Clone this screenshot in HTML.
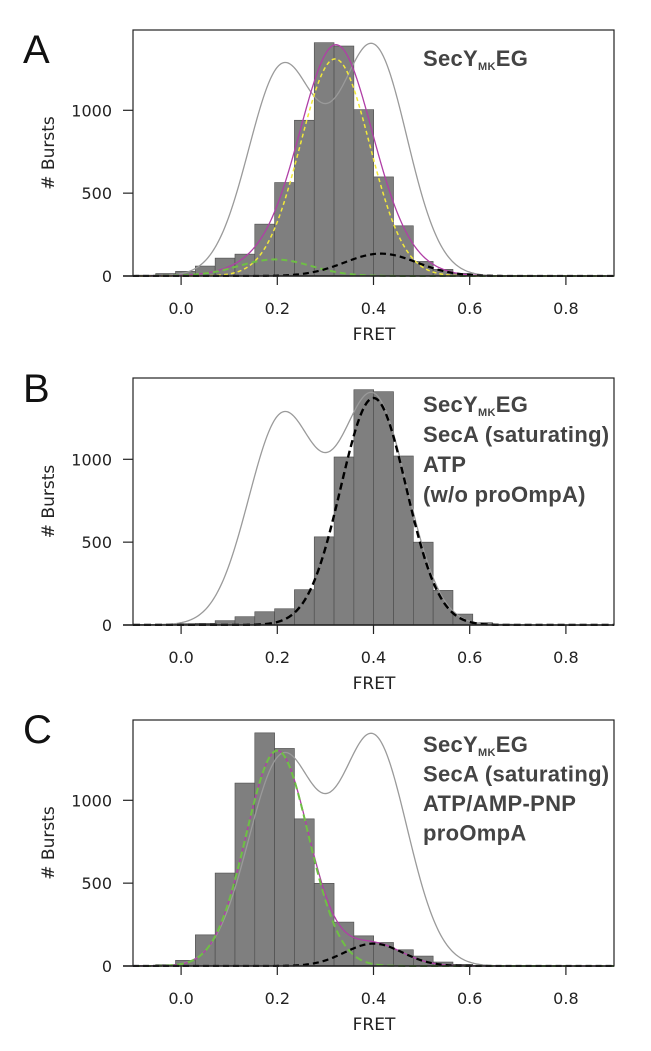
<!DOCTYPE html>
<html><head><meta charset="utf-8"><style>
body{margin:0;background:#fff}
svg{display:block;font-family:"DejaVu Sans","Liberation Sans",sans-serif}
</style></head><body>
<svg id="fig" width="651" height="1051" viewBox="0 0 651 1051"></svg>
<script>
// ---- data ----
const binStart = -0.094;
const binWidth = 0.0412;
const countsA = [5,15,28,60,108,132,313,564,940,1408,1388,1004,598,303,88,40,16,6,2,2,1,1,1,1];
const countsB = [3,5,8,10,26,50,80,98,213,532,1014,1420,1408,1020,500,209,66,14,5,2,1,1,1,1];
const countsC = [3,8,34,188,561,1104,1407,1313,888,499,265,182,142,98,60,24,10,3,1,1,1,1,1,1];
// reference (gray) two-state gaussian: means, sigmas, amplitudes
const refMu = [0.21, 0.40];
const refSigma = [0.07, 0.07];
const refAmp = [1250, 1370];
// fitted components
const fitA_mu = [0.195, 0.32, 0.415];
const fitA_sigma = [0.075, 0.072, 0.075];
const fitA_amp = [100, 1310, 135];
const fitB_mu = [0.40];
const fitB_sigma = [0.068];
const fitB_amp = [1370];
const fitC_mu = [0.20, 0.40];
const fitC_sigma = [0.065, 0.06];
const fitC_amp = [1300, 135];
const xTicks = [0.0, 0.2, 0.4, 0.6, 0.8];
const xTickLabels = ["0.0","0.2","0.4","0.6","0.8"];
const yTicks = [0, 500, 1000];
const yTickLabels = ["0","500","1000"];

const NS = "http://www.w3.org/2000/svg";
const svg = document.getElementById('fig');
function mk(tag, attrs, parent){const e=document.createElementNS(NS,tag);for(const k in attrs)e.setAttribute(k,attrs[k]);(parent||svg).appendChild(e);return e;}
const X0=133, X1=614, D0=-0.1, D1=0.9;
function xs(v){return X0+(v-D0)/(D1-D0)*(X1-X0);}
function gauss(x,m,s,a){return a*Math.exp(-(x-m)*(x-m)/(2*s*s));}
function sumG(x,mu,sg,am){let t=0;for(let i=0;i<mu.length;i++)t+=gauss(x,mu[i],sg[i],am[i]);return t;}

function panel(cfg){
  const g = mk('g',{});
  
  
  const Z=cfg.zero, T=cfg.top, k=0.1657;
  const ys=v=>Z-v*k;
  const clip = mk('clipPath',{id:'clip'+cfg.letter},g);
  mk('rect',{x:X0,y:T,width:X1-X0,height:Z-T+1},clip);
  const plot = mk('g',{'clip-path':'url(#clip'+cfg.letter+')'},g);
  cfg.counts.forEach((c,i)=>{
    const l=binStart+i*binWidth;
    const r=mk('rect',{x:xs(l),y:ys(c),width:xs(l+binWidth)-xs(l),height:Z-ys(c),fill:'#7f7f7f',stroke:'#4a4a4a','stroke-width':0.6},plot);
    
    
  });
  function curve(fn,attrs,name){
    let d='';
    for(let x=D0;x<=D1+1e-9;x+=0.0025){d+=(d?'L':'M')+xs(x).toFixed(2)+','+ys(fn(x)).toFixed(2);}
    const p=mk('path',Object.assign({d:d,fill:'none'},attrs),plot);
    
    
  }
  curve(x=>sumG(x,refMu,refSigma,refAmp),{stroke:'#9a9a9a','stroke-width':1.3},'reference-curve');
  cfg.curves(curve);
  const fr=mk('rect',{x:X0,y:T,width:X1-X0,height:Z-T,fill:'none',stroke:'#222','stroke-width':1.2},g);
  
  
  mk('line',{x1:X0-10,x2:X1,y1:Z,y2:Z,stroke:'#222','stroke-width':1.5},g);
  xTicks.forEach((v,i)=>{
    mk('line',{x1:xs(v),x2:xs(v),y1:Z,y2:Z+9,stroke:'#222','stroke-width':1.2},g);
    const t=mk('text',{x:xs(v),y:Z+38,'text-anchor':'middle','font-size':16,fill:'#222'},g);
    t.textContent=xTickLabels[i];
    
    
  });
  yTicks.forEach((v,i)=>{
    mk('line',{x1:X0-10,x2:X0,y1:ys(v),y2:ys(v),stroke:'#222','stroke-width':1.2},g);
    const t=mk('text',{x:112,y:ys(v)+6,'text-anchor':'end','font-size':16,fill:'#222'},g);
    t.textContent=yTickLabels[i];
    
    
  });
  const xl=mk('text',{x:374,y:Z+64,'text-anchor':'middle','font-size':17,fill:'#222'},g);
  xl.textContent='FRET';
  
  
  const yc=(T+Z)/2;
  const yl=mk('text',{x:0,y:0,'text-anchor':'middle','font-size':17,fill:'#222',transform:'translate(54,'+yc+') rotate(-90)'},g);
  yl.textContent='# Bursts';
  
  
  const pl=mk('text',{x:23,y:cfg.letterY,'font-size':40,fill:'#111','font-family':'Liberation Sans, sans-serif'},g);
  pl.textContent=cfg.letter;
  
  
  cfg.lines.forEach((ln,i)=>{
    const t=mk('text',{x:423,y:cfg.textY+i*cfg.lineGap,'font-size':22,'font-weight':'bold',fill:'#444','font-family':'Liberation Sans, sans-serif','letter-spacing':'0.3'},g);
    
    
    if(i===0){
      t.appendChild(document.createTextNode('SecY'));
      const s=mk('tspan',{'font-size':11,dy:4},t);s.textContent='MK';
      const e=mk('tspan',{dy:-4},t);e.textContent='EG';
    } else t.textContent=ln;
  });
}

panel({name:'panel-a',letter:'A',top:30,zero:276,letterY:63,textY:66,lineGap:30,counts:countsA,
  lines:['SecYMKEG'],
  curves:c=>{
    c(x=>sumG(x,fitA_mu,fitA_sigma,fitA_amp),{stroke:'#b03fa6','stroke-width':1.3},'total-fit-curve');
    c(x=>gauss(x,fitA_mu[1],fitA_sigma[1],fitA_amp[1]),{stroke:'#f2e93a','stroke-width':1.5,'stroke-dasharray':'4,3'},'main-state-fit');
    c(x=>gauss(x,fitA_mu[0],fitA_sigma[0],fitA_amp[0]),{stroke:'#6fbf45','stroke-width':2,'stroke-dasharray':'6,4'},'low-fret-fit');
    c(x=>gauss(x,fitA_mu[2],fitA_sigma[2],fitA_amp[2]),{stroke:'#000','stroke-width':2.2,'stroke-dasharray':'6,4'},'high-fret-fit');
  }});
panel({name:'panel-b',letter:'B',top:378,zero:625,letterY:402,textY:412,lineGap:30,counts:countsB,
  lines:['SecYMKEG','SecA (saturating)','ATP','(w/o proOmpA)'],
  curves:c=>{
    c(x=>sumG(x,fitB_mu,fitB_sigma,fitB_amp),{stroke:'#000','stroke-width':2.4,'stroke-dasharray':'7,4'},'high-fret-fit');
  }});
panel({name:'panel-c',letter:'C',top:720,zero:966,letterY:743,textY:752,lineGap:29.5,counts:countsC,
  lines:['SecYMKEG','SecA (saturating)','ATP/AMP-PNP','proOmpA'],
  curves:c=>{
    c(x=>sumG(x,fitC_mu,fitC_sigma,fitC_amp),{stroke:'#b03fa6','stroke-width':1.3},'total-fit-curve');
    c(x=>gauss(x,fitC_mu[0],fitC_sigma[0],fitC_amp[0]),{stroke:'#6fbf45','stroke-width':2,'stroke-dasharray':'7,4'},'low-fret-fit');
    c(x=>gauss(x,fitC_mu[1],fitC_sigma[1],fitC_amp[1]),{stroke:'#000','stroke-width':2.2,'stroke-dasharray':'6,4'},'high-fret-fit');
  }});
</script>
</body></html>
